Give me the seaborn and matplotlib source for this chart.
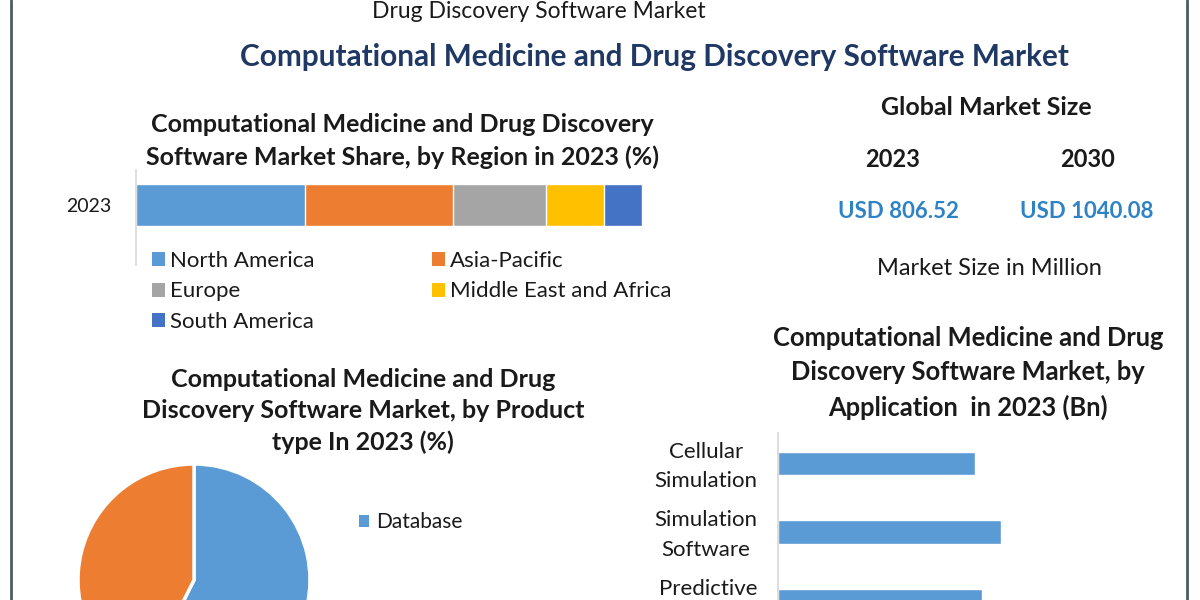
import numpy as np
import pandas as pd
import seaborn as sns
import matplotlib.pyplot as plt
import matplotlib.transforms as mtrans
from matplotlib.patches import Patch
from matplotlib.lines import Line2D

# data
regions = ["North America", "Asia-Pacific", "Europe", "Middle East and Africa", "South America"]
region_share = [33.4, 29.2, 18.5, 11.4, 7.5]
region_colors = ["#5b9bd5", "#ed7d31", "#a5a5a5", "#ffc000", "#4472c4"]
region_year = "2023"

product_types = ["Database", "Software"]
product_share = [57.4, 42.6]
product_colors = ["#5b9bd5", "#ed7d31"]

applications = ["Cellular\nSimulation", "Simulation\nSoftware", "Predictive\n"]
app_values = [19.7, 22.3, 20.4]

market_years = ["2023", "2030"]
market_values = ["USD 806.52", "USD 1040.08"]

sns.set_theme(style="white")
plt.rcParams['font.family'] = ['Lato', 'DejaVu Sans']

W, H = 1200, 600
fig = plt.figure(figsize=(12, 6), dpi=100)
fig.patch.set_facecolor("white")


def px(x, y):
    return x / W, 1 - y / H


def box(left, top, width, height):
    return [left / W, 1 - (top + height) / H, width / W, height / H]


navy = "#1f3864"
txt = "#1a1a1a"

# frame lines
for xx in (11, 1187):
    fig.add_artist(Line2D([xx / W, xx / W], [0, 1], color="#4b5d63", lw=2))

# headings
fig.text(*px(539, 11), "Drug Discovery Software Market", ha="center", va="center",
         fontsize=16.5, color=txt)
fig.text(*px(654, 57), "Computational Medicine and Drug Discovery Software Market",
         ha="center", va="center", fontsize=21.4, fontweight="bold", color=navy)

# ---- stacked region bar ----
ax1 = fig.add_axes(box(136, 170, 505.7, 95))
cum = np.cumsum(region_share)
for i in range(len(regions) - 1, -1, -1):
    sns.barplot(x=[cum[i]], y=[region_year], color=region_colors[i], width=0.5,
                saturation=1, ax=ax1, orient="h")
ax1.set_xlim(0, 100)
ax1.set_ylim(0.714, -0.417)
ax1.set_xticks([])
ax1.set_xlabel("")
ax1.set_ylabel("")
for s in ["top", "right", "bottom"]:
    ax1.spines[s].set_visible(False)
ax1.spines["left"].set_color("#d9d9d9")
ax1.tick_params(axis="y", length=0, pad=18, labelsize=14, labelcolor=txt)

fig.text(*px(402, 141), "Computational Medicine and Drug Discovery\nSoftware Market Share, by Region in 2023 (%)",
         ha="center", va="center", fontsize=18, fontweight="bold", color=txt, linespacing=1.45)

order = [0, 2, 4, 1, 3]
handles = [Patch(facecolor=region_colors[i], edgecolor="none") for i in order]
fig.legend(handles, [regions[i] for i in order], ncol=2, loc="upper left",
           bbox_to_anchor=px(132, 231), frameon=False, fontsize=16,
           handlelength=0.6, handleheight=0.6, handletextpad=0.2,
           labelspacing=0.47, columnspacing=5.3, labelcolor=txt)

# ---- global market size ----
fig.text(*px(986, 108), "Global Market Size", ha="center", va="center",
         fontsize=18, fontweight="bold", color=txt)
for xx, yr in zip((893, 1088), market_years):
    fig.text(*px(xx, 160), yr, ha="center", va="center", fontsize=17,
             fontweight="bold", color=txt)
for xx, val in zip((898, 1087), market_values):
    fig.text(*px(xx, 212), val, ha="center", va="center", fontsize=16,
             fontweight="bold", color="#2e83c6")
fig.text(*px(989, 269), "Market Size in Million", ha="center", va="center",
         fontsize=17, color=txt)

# ---- product type pie ----
ax2 = fig.add_axes(box(78, 464, 232, 232))
ax2.pie(product_share, colors=product_colors, startangle=90, counterclock=False,
        radius=1, wedgeprops=dict(edgecolor="white", linewidth=2.5))
ax2.set_xlim(-1.0, 1.0)
ax2.set_ylim(-1.0, 1.0)
ax2.set_aspect("equal")
fig.text(*px(363, 411), "Computational Medicine and Drug\nDiscovery Software Market, by Product\ntype In 2023 (%)",
         ha="center", va="center", fontsize=18, fontweight="bold", color=txt, linespacing=1.45)
fig.legend([Patch(facecolor=product_colors[0], edgecolor="none")], product_types[:1],
           loc="center left", bbox_to_anchor=px(340, 522), frameon=False, fontsize=15,
           handlelength=0.5, handleheight=0.5, handletextpad=0.35, labelcolor=txt)

# ---- application bars ----
df_app = pd.DataFrame({"application": applications, "value": app_values})
ax3 = fig.add_axes(box(778, 433, 400, 202))
sns.barplot(data=df_app, x="value", y="application", color="#5b9bd5", saturation=1,
            width=0.343, ax=ax3, orient="h")
ax3.set_xlim(0, 40)
ax3.set_ylim(2.5, -0.445)
ax3.set_xticks([])
ax3.set_xlabel("")
ax3.set_ylabel("")
for s in ["top", "right", "bottom"]:
    ax3.spines[s].set_visible(False)
ax3.spines["left"].set_color("#d9d9d9")
ax3.tick_params(axis="y", length=0, pad=15, labelsize=16, labelcolor=txt)
# nudge the two-line labels up a little
shift = mtrans.ScaledTranslation(0, 4 / 100, fig.dpi_scale_trans)
for lab in ax3.get_yticklabels():
    lab.set_multialignment("center")
    lab.set_linespacing(1.6)
    lab.set_transform(lab.get_transform() + shift)
fig.text(*px(968, 373), "Computational Medicine and Drug\nDiscovery Software Market, by\nApplication  in 2023 (Bn)",
         ha="center", va="center", fontsize=18.4, fontweight="bold", color=txt, linespacing=1.5)

fig.savefig("out.png", dpi=100, facecolor="white")
